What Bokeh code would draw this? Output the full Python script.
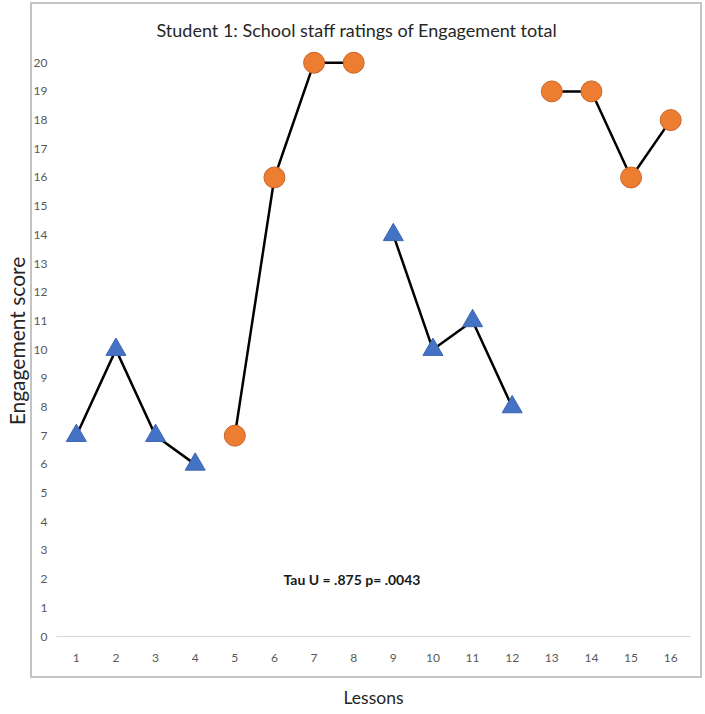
from bokeh.plotting import figure
from bokeh.models import Range1d, FixedTicker, Label
from bokeh.embed import file_html
from bokeh.resources import INLINE

# ---- data ----
lessons_ticks = list(range(1, 17))
score_ticks = list(range(0, 21))

baseline1_x = [1, 2, 3, 4]
baseline1_y = [7, 10, 7, 6]
intervention1_x = [5, 6, 7, 8]
intervention1_y = [7, 16, 20, 20]
baseline2_x = [9, 10, 11, 12]
baseline2_y = [14, 10, 11, 8]
intervention2_x = [13, 14, 15, 16]
intervention2_y = [19, 19, 16, 18]

title_text = "Student 1: School staff ratings of Engagement total"
x_label = "Lessons"
y_label = "Engagement score"
stat_text = "Tau U = .875  p= .0043"
stat_pos = (8.0, 2)

FONT = "Lato"
TICK_COLOR = "#595959"
W, H = 704, 712

# chart-area border (CSS background lines behind the transparent canvas border)
BL, BR, BT, BB = 30, 700, 2, 676
BC = "#c4c4c4"
border_css = {
    "background-color": "white",
    "background-image": ", ".join([f"linear-gradient({BC},{BC})"] * 4),
    "background-size": f"{BR-BL}px 2px, {BR-BL}px 2px, 2px {BB-BT}px, 2px {BB-BT+2}px",
    "background-position": f"{BL}px {BT}px, {BL}px {BB}px, {BL}px {BT}px, {BR}px {BT}px",
    "background-repeat": "no-repeat",
}

p = figure(width=W, height=H, output_backend="svg", toolbar_location=None,
           x_range=Range1d(0.5, 16.5), y_range=Range1d(0, 20.6),
           min_border_left=56, min_border_right=14, min_border_top=45, min_border_bottom=76,
           styles=border_css)

p.border_fill_color = None
p.background_fill_color = "white"
p.outline_line_color = None

p.title.text = title_text
p.title.align = "left"
p.title.offset = 100
p.title.standoff = 10
p.title.text_font = FONT
p.title.text_font_size = "18px"
p.title.text_font_style = "normal"
p.title.text_color = "#262626"

p.xgrid.grid_line_color = None
p.ygrid.grid_line_color = None

p.xaxis.ticker = FixedTicker(ticks=lessons_ticks)
p.yaxis.ticker = FixedTicker(ticks=score_ticks)
for ax in (p.xaxis, p.yaxis):
    ax.major_tick_line_color = None
    ax.minor_tick_line_color = None
    ax.major_tick_out = 0
    ax.major_tick_in = 0
    ax.minor_tick_out = 0
    ax.major_label_text_font = FONT
    ax.major_label_text_font_size = "12px"
    ax.major_label_text_color = TICK_COLOR
    ax.axis_label_text_font = FONT
    ax.axis_label_text_font_style = "normal"
    ax.axis_label_text_color = "#262626"
p.xaxis.axis_line_color = "#d9d9d9"
p.xaxis.axis_line_width = 1.2
p.yaxis.axis_line_color = None
p.xaxis.major_label_standoff = 17
p.yaxis.major_label_standoff = 9

p.xaxis.axis_label = x_label
p.xaxis.axis_label_text_font_size = "17.5px"
p.xaxis.axis_label_standoff = 22
p.yaxis.axis_label = y_label
p.yaxis.axis_label_text_font_size = "21px"
p.yaxis.axis_label_text_line_height = 1.0
p.yaxis.axis_label_standoff = 2

BLUE = "#4472C4"
ORANGE = "#ED7D31"
for xs, ys, kind in [(baseline1_x, baseline1_y, "A"), (intervention1_x, intervention1_y, "B"),
                     (baseline2_x, baseline2_y, "A"), (intervention2_x, intervention2_y, "B")]:
    p.line(xs, ys, line_color="black", line_width=2.5)
    if kind == "A":
        p.scatter(xs, ys, marker="triangle", size=20, fill_color=BLUE,
                  line_color="#3b65b0", line_width=1)
    else:
        p.scatter(xs, ys, marker="circle", size=21, fill_color=ORANGE,
                  line_color="#c9662a", line_width=1)

p.add_layout(Label(x=stat_pos[0], y=stat_pos[1], text=stat_text, text_font=FONT,
                   text_font_size="14px", text_font_style="bold", text_color="#1a1a1a",
                   text_align="center", text_baseline="middle"))

open("out.html", "w").write(file_html(p, INLINE))
